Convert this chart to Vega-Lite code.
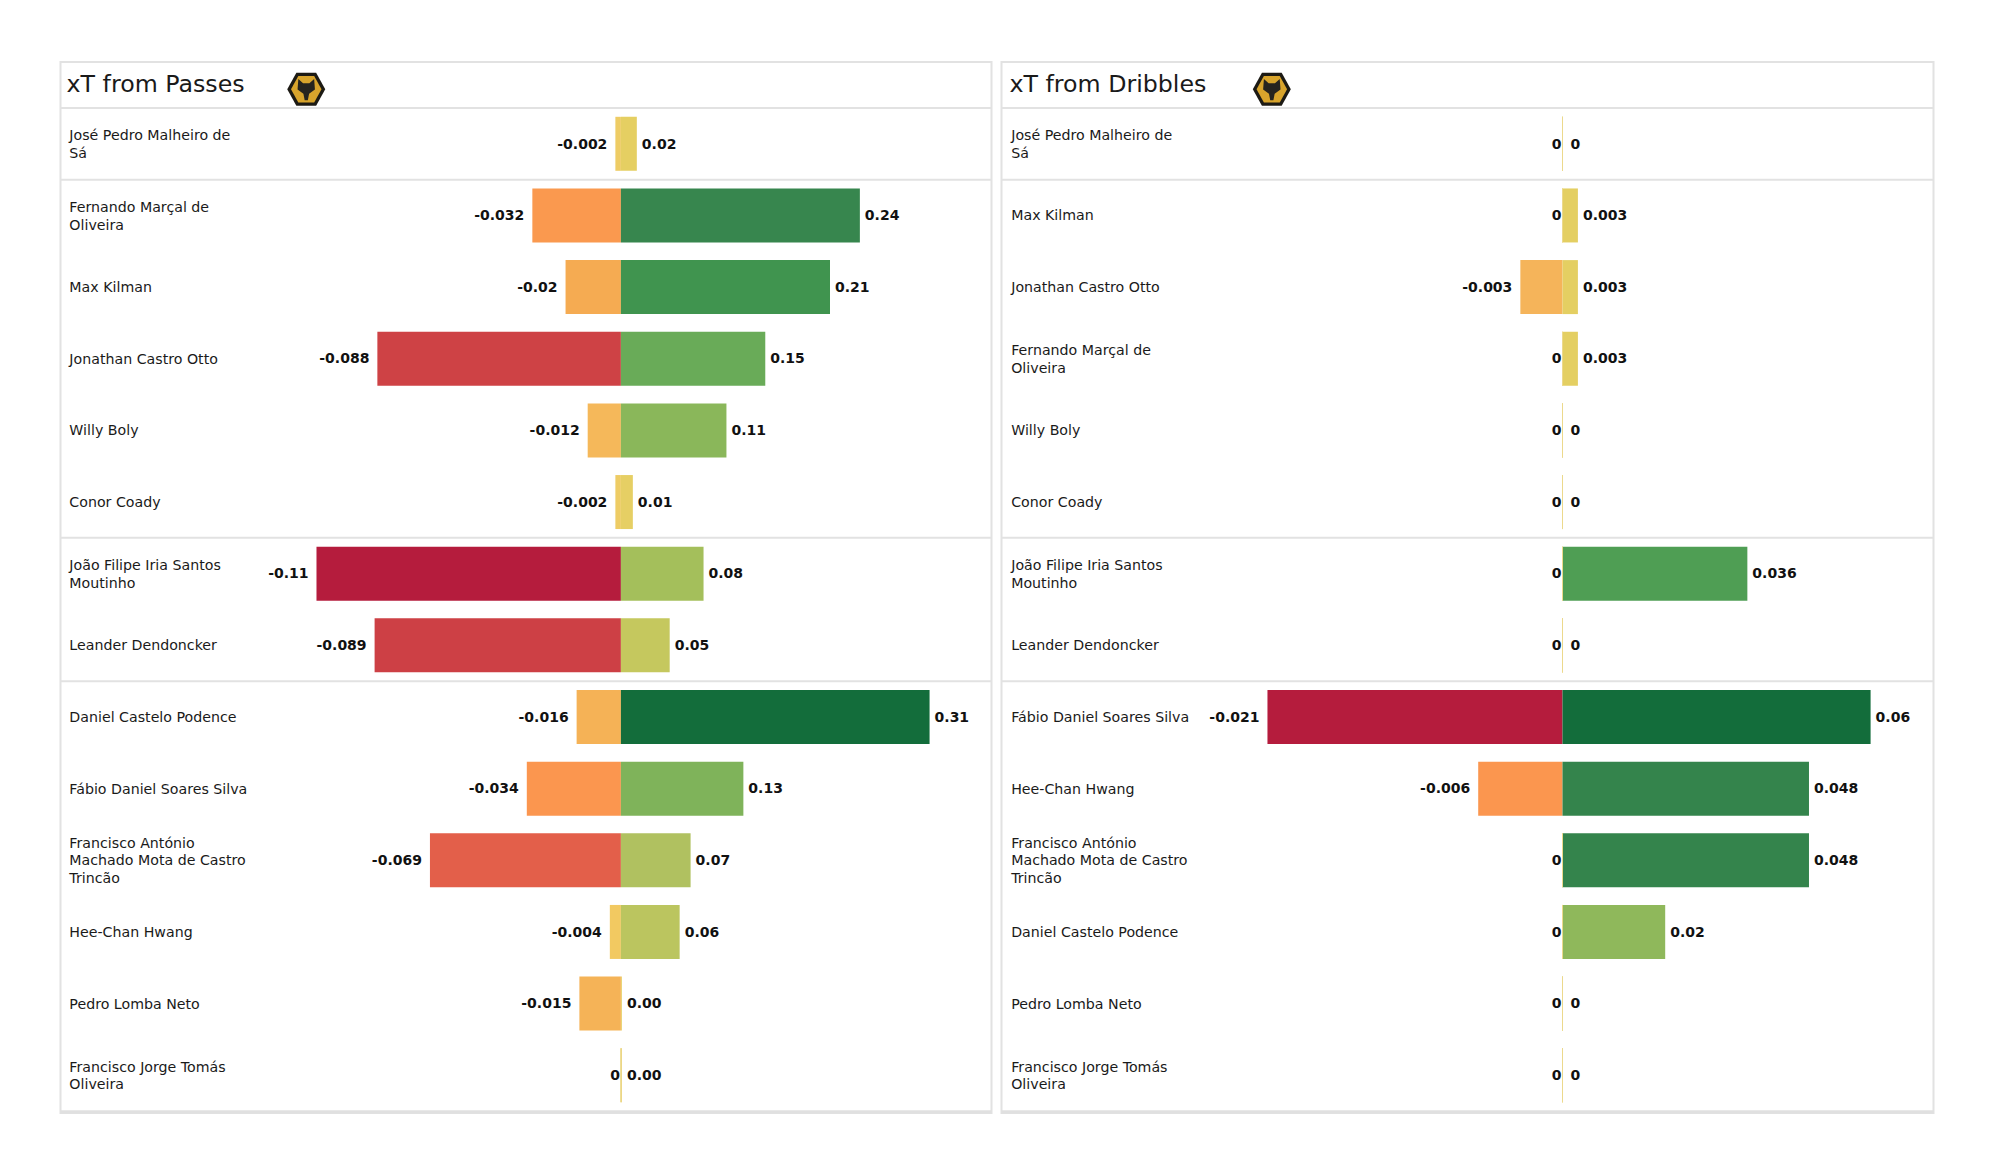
{"$schema":"https://vega.github.io/schema/vega-lite/v6.json","background":"white","padding":{"left":57.5,"top":61,"right":0,"bottom":0},"spacing":4,"resolve":{"scale":{"color":"independent"}},
"config":{"view":{"stroke":"#e2e2e2","strokeWidth":2},"text":{"font":"DejaVu Sans"}},
"datasets":{
"passes":[
{"player":"José Pedro Malheiro de\nSá","rank":1,"side":"neg","value":-0.002,"label":"-0.002"},{"player":"José Pedro Malheiro de\nSá","rank":1,"side":"pos","value":0.016,"label":"0.02"},
{"player":"Fernando Marçal de\nOliveira","rank":2,"side":"neg","value":-0.032,"label":"-0.032"},{"player":"Fernando Marçal de\nOliveira","rank":2,"side":"pos","value":0.24,"label":"0.24"},
{"player":"Max Kilman","rank":3,"side":"neg","value":-0.02,"label":"-0.02"},{"player":"Max Kilman","rank":3,"side":"pos","value":0.21,"label":"0.21"},
{"player":"Jonathan Castro Otto","rank":4,"side":"neg","value":-0.088,"label":"-0.088"},{"player":"Jonathan Castro Otto","rank":4,"side":"pos","value":0.145,"label":"0.15"},
{"player":"Willy Boly","rank":5,"side":"neg","value":-0.012,"label":"-0.012"},{"player":"Willy Boly","rank":5,"side":"pos","value":0.106,"label":"0.11"},
{"player":"Conor  Coady","rank":6,"side":"neg","value":-0.002,"label":"-0.002"},{"player":"Conor  Coady","rank":6,"side":"pos","value":0.012,"label":"0.01"},
{"player":"João Filipe Iria Santos\nMoutinho","rank":7,"side":"neg","value":-0.11,"label":"-0.11"},{"player":"João Filipe Iria Santos\nMoutinho","rank":7,"side":"pos","value":0.083,"label":"0.08"},
{"player":"Leander Dendoncker","rank":8,"side":"neg","value":-0.089,"label":"-0.089"},{"player":"Leander Dendoncker","rank":8,"side":"pos","value":0.049,"label":"0.05"},
{"player":"Daniel Castelo Podence","rank":9,"side":"neg","value":-0.016,"label":"-0.016"},{"player":"Daniel Castelo Podence","rank":9,"side":"pos","value":0.31,"label":"0.31"},
{"player":"Fábio Daniel Soares Silva","rank":10,"side":"neg","value":-0.034,"label":"-0.034"},{"player":"Fábio Daniel Soares Silva","rank":10,"side":"pos","value":0.123,"label":"0.13"},
{"player":"Francisco António\nMachado Mota de Castro\nTrincão","rank":11,"side":"neg","value":-0.069,"label":"-0.069"},{"player":"Francisco António\nMachado Mota de Castro\nTrincão","rank":11,"side":"pos","value":0.07,"label":"0.07"},
{"player":"Hee-Chan Hwang","rank":12,"side":"neg","value":-0.004,"label":"-0.004"},{"player":"Hee-Chan Hwang","rank":12,"side":"pos","value":0.059,"label":"0.06"},
{"player":"Pedro Lomba Neto","rank":13,"side":"neg","value":-0.015,"label":"-0.015"},{"player":"Pedro Lomba Neto","rank":13,"side":"pos","value":0.001,"label":"0.00"},
{"player":"Francisco Jorge Tomás\nOliveira","rank":14,"side":"neg","value":0,"label":"0"},{"player":"Francisco Jorge Tomás\nOliveira","rank":14,"side":"pos","value":0.001,"label":"0.00"}],
"dribbles":[
{"player":"José Pedro Malheiro de\nSá","rank":1,"side":"neg","value":0,"label":"0"},{"player":"José Pedro Malheiro de\nSá","rank":1,"side":"pos","value":0,"label":"0"},
{"player":"Max Kilman","rank":2,"side":"neg","value":0,"label":"0"},{"player":"Max Kilman","rank":2,"side":"pos","value":0.003,"label":"0.003"},
{"player":"Jonathan Castro Otto","rank":3,"side":"neg","value":-0.003,"label":"-0.003"},{"player":"Jonathan Castro Otto","rank":3,"side":"pos","value":0.003,"label":"0.003"},
{"player":"Fernando Marçal de\nOliveira","rank":4,"side":"neg","value":0,"label":"0"},{"player":"Fernando Marçal de\nOliveira","rank":4,"side":"pos","value":0.003,"label":"0.003"},
{"player":"Willy Boly","rank":5,"side":"neg","value":0,"label":"0"},{"player":"Willy Boly","rank":5,"side":"pos","value":0,"label":"0"},
{"player":"Conor  Coady","rank":6,"side":"neg","value":0,"label":"0"},{"player":"Conor  Coady","rank":6,"side":"pos","value":0,"label":"0"},
{"player":"João Filipe Iria Santos\nMoutinho","rank":7,"side":"neg","value":0,"label":"0"},{"player":"João Filipe Iria Santos\nMoutinho","rank":7,"side":"pos","value":0.036,"label":"0.036"},
{"player":"Leander Dendoncker","rank":8,"side":"neg","value":0,"label":"0"},{"player":"Leander Dendoncker","rank":8,"side":"pos","value":0,"label":"0"},
{"player":"Fábio Daniel Soares Silva","rank":9,"side":"neg","value":-0.021,"label":"-0.021"},{"player":"Fábio Daniel Soares Silva","rank":9,"side":"pos","value":0.06,"label":"0.06"},
{"player":"Hee-Chan Hwang","rank":10,"side":"neg","value":-0.006,"label":"-0.006"},{"player":"Hee-Chan Hwang","rank":10,"side":"pos","value":0.048,"label":"0.048"},
{"player":"Francisco António\nMachado Mota de Castro\nTrincão","rank":11,"side":"neg","value":0,"label":"0"},{"player":"Francisco António\nMachado Mota de Castro\nTrincão","rank":11,"side":"pos","value":0.048,"label":"0.048"},
{"player":"Daniel Castelo Podence","rank":12,"side":"neg","value":0,"label":"0"},{"player":"Daniel Castelo Podence","rank":12,"side":"pos","value":0.02,"label":"0.02"},
{"player":"Pedro Lomba Neto","rank":13,"side":"neg","value":0,"label":"0"},{"player":"Pedro Lomba Neto","rank":13,"side":"pos","value":0,"label":"0"},
{"player":"Francisco Jorge Tomás\nOliveira","rank":14,"side":"neg","value":0,"label":"0"},{"player":"Francisco Jorge Tomás\nOliveira","rank":14,"side":"pos","value":0,"label":"0"}],
"seps":[{"rank":0.5},{"rank":1.5},{"rank":6.5},{"rank":8.5}]
},
"hconcat":[
{"width":931,"height":1051,"layer":[
{"data":{"name":"seps"},"mark":{"type":"rule","color":"#e2e2e2","strokeWidth":2},"encoding":{"y":{"field":"rank","type":"quantitative","axis":null,"scale":{"domain":[-0.1417,14.527],"reverse":true,"nice":false,"zero":false,"padding":0}}}},
{"data":{"values":[{"rank":14.51}]},"mark":{"type":"rule","color":"#e0e0e0","strokeWidth":3},"encoding":{"y":{"field":"rank","type":"quantitative","axis":null}}},
{"data":{"name":"passes"},"mark":{"type":"bar","orient":"horizontal","size":54},"encoding":{
"x":{"field":"value","type":"quantitative","stack":null,"axis":null,"scale":{"domain":[-0.2025,0,0.3722],"range":[0,560.4,931],"nice":false,"zero":false}},
"y":{"field":"rank","type":"quantitative","axis":null},
"color":{"field":"value","type":"quantitative","legend":null,"scale":{"type":"linear","interpolate":"rgb","domain":[-0.11,-0.089,-0.069,-0.034,-0.02,-0.012,-0.004,0.001,0.016,0.05,0.07,0.083,0.106,0.123,0.145,0.21,0.24,0.31],"range":["#b51c3d","#cd4045","#e35f4a","#fb964f","#f5ab52","#f5b85a","#f2c961","#e8d06a","#e5cf62","#c4c85e","#b0c160","#a4bf5b","#8ab75a","#7fb35a","#69ab58","#40944f","#37864e","#136d3b"]}}}},
{"data":{"name":"passes"},"transform":[{"filter":"datum.value==0"}],"mark":{"type":"bar","orient":"horizontal","size":54,"stroke":"#ecd98c","strokeWidth":1},"encoding":{"x":{"field":"value","type":"quantitative","stack":null,"axis":null},"y":{"field":"rank","type":"quantitative","axis":null}}},
{"data":{"name":"passes"},"transform":[{"filter":"datum.side=='neg' && length(split(datum.player,'\\n'))==1"}],"mark":{"type":"text","align":"left","baseline":"middle","fontSize":14.2,"dy":1,"color":"#1a1a1a"},"encoding":{"x":{"datum":-0.1993,"type":"quantitative","axis":null},"y":{"field":"rank","type":"quantitative","axis":null},"text":{"field":"player"}}},
{"data":{"name":"passes"},"transform":[{"filter":"datum.side=='neg' && length(split(datum.player,'\\n'))==2"}],"mark":{"type":"text","align":"left","baseline":"middle","fontSize":14.2,"lineBreak":"\n","lineHeight":17.7,"dy":-7.5,"color":"#1a1a1a"},"encoding":{"x":{"datum":-0.1993,"type":"quantitative","axis":null},"y":{"field":"rank","type":"quantitative","axis":null},"text":{"field":"player"}}},
{"data":{"name":"passes"},"transform":[{"filter":"datum.side=='neg' && length(split(datum.player,'\\n'))==3"}],"mark":{"type":"text","align":"left","baseline":"middle","fontSize":14.2,"lineBreak":"\n","lineHeight":17.7,"dy":-16.5,"color":"#1a1a1a"},"encoding":{"x":{"datum":-0.1993,"type":"quantitative","axis":null},"y":{"field":"rank","type":"quantitative","axis":null},"text":{"field":"player"}}},
{"data":{"name":"passes"},"transform":[{"filter":"datum.side=='neg' && datum.value<0"}],"mark":{"type":"text","align":"right","baseline":"middle","fontSize":14,"fontWeight":"bold","dx":-8,"dy":0.7,"color":"#111111"},"encoding":{"x":{"field":"value","type":"quantitative","stack":null,"axis":null},"y":{"field":"rank","type":"quantitative","axis":null},"text":{"field":"label"}}},
{"data":{"name":"passes"},"transform":[{"filter":"datum.side=='neg' && datum.value==0"}],"mark":{"type":"text","align":"right","baseline":"middle","fontSize":14,"fontWeight":"bold","dx":-1,"dy":0.7,"color":"#111111"},"encoding":{"x":{"field":"value","type":"quantitative","stack":null,"axis":null},"y":{"field":"rank","type":"quantitative","axis":null},"text":{"field":"label"}}},
{"data":{"name":"passes"},"transform":[{"filter":"datum.side=='pos'"}],"mark":{"type":"text","align":"left","baseline":"middle","fontSize":14,"fontWeight":"bold","dx":5,"dy":0.7,"color":"#111111"},"encoding":{"x":{"field":"value","type":"quantitative","stack":null,"axis":null},"y":{"field":"rank","type":"quantitative","axis":null},"text":{"field":"label"}}},
{"data":{"values":[{"x":-0.2003,"rank":0.182,"title":"xT from Passes"}]},"mark":{"type":"text","align":"left","baseline":"middle","fontSize":23.7,"color":"#1a1a1a"},"encoding":{"x":{"field":"x","type":"quantitative","axis":null},"y":{"field":"rank","type":"quantitative","axis":null},"text":{"field":"title"}}},
{"data":{"values":[{"x":-0.1137,"rank":0.239}]},"mark":{"type":"point","filled":true,"opacity":1,"color":"#1c1a14","size":1444,"shape":"M-1,0L-0.52,-0.87L0.52,-0.87L1,0L0.52,0.87L-0.52,0.87Z"},"encoding":{"x":{"field":"x","type":"quantitative","axis":null},"y":{"field":"rank","type":"quantitative","axis":null}}},
{"data":{"values":[{"x":-0.1137,"rank":0.239}]},"mark":{"type":"point","filled":true,"opacity":1,"color":"#d8a42c","size":930,"shape":"M-1,0L-0.52,-0.87L0.52,-0.87L1,0L0.52,0.87L-0.52,0.87Z"},"encoding":{"x":{"field":"x","type":"quantitative","axis":null},"y":{"field":"rank","type":"quantitative","axis":null}}},
{"data":{"values":[{"x":-0.1137,"rank":0.239}]},"mark":{"type":"point","filled":true,"opacity":1,"color":"#26241f","size":1000,"shape":"M-0.5,-0.65L-0.2,-0.38L0.2,-0.38L0.5,-0.65L0.55,0.02L0.18,0.28L0.1,0.7L-0.1,0.7L-0.18,0.28L-0.55,0.02Z"},"encoding":{"x":{"field":"x","type":"quantitative","axis":null},"y":{"field":"rank","type":"quantitative","axis":null}}}
]},
{"width":932,"height":1051,"layer":[
{"data":{"name":"seps"},"mark":{"type":"rule","color":"#e2e2e2","strokeWidth":2},"encoding":{"y":{"field":"rank","type":"quantitative","axis":null,"scale":{"domain":[-0.1417,14.527],"reverse":true,"nice":false,"zero":false,"padding":0}}}},
{"data":{"values":[{"rank":14.51}]},"mark":{"type":"rule","color":"#e0e0e0","strokeWidth":3},"encoding":{"y":{"field":"rank","type":"quantitative","axis":null}}},
{"data":{"name":"dribbles"},"mark":{"type":"bar","orient":"horizontal","size":54},"encoding":{
"x":{"field":"value","type":"quantitative","stack":null,"axis":null,"scale":{"domain":[-0.03993,0,0.07225],"range":[0,561,932],"nice":false,"zero":false}},
"y":{"field":"rank","type":"quantitative","axis":null},
"color":{"field":"value","type":"quantitative","legend":null,"scale":{"type":"linear","interpolate":"rgb","domain":[-0.021,-0.006,-0.003,0,0.003,0.02,0.036,0.048,0.06],"range":["#b51c3d","#fb964f","#f5b45a","#e8cd62","#e4cf62","#8fb85b","#4f9e54","#34844c","#136d3b"]}}}},
{"data":{"name":"dribbles"},"transform":[{"filter":"datum.value==0"}],"mark":{"type":"bar","orient":"horizontal","size":54,"stroke":"#ecd98c","strokeWidth":1},"encoding":{"x":{"field":"value","type":"quantitative","stack":null,"axis":null},"y":{"field":"rank","type":"quantitative","axis":null}}},
{"data":{"name":"dribbles"},"transform":[{"filter":"datum.side=='neg' && length(split(datum.player,'\\n'))==1"}],"mark":{"type":"text","align":"left","baseline":"middle","fontSize":14.2,"dy":1,"color":"#1a1a1a"},"encoding":{"x":{"datum":-0.03924,"type":"quantitative","axis":null},"y":{"field":"rank","type":"quantitative","axis":null},"text":{"field":"player"}}},
{"data":{"name":"dribbles"},"transform":[{"filter":"datum.side=='neg' && length(split(datum.player,'\\n'))==2"}],"mark":{"type":"text","align":"left","baseline":"middle","fontSize":14.2,"lineBreak":"\n","lineHeight":17.7,"dy":-7.5,"color":"#1a1a1a"},"encoding":{"x":{"datum":-0.03924,"type":"quantitative","axis":null},"y":{"field":"rank","type":"quantitative","axis":null},"text":{"field":"player"}}},
{"data":{"name":"dribbles"},"transform":[{"filter":"datum.side=='neg' && length(split(datum.player,'\\n'))==3"}],"mark":{"type":"text","align":"left","baseline":"middle","fontSize":14.2,"lineBreak":"\n","lineHeight":17.7,"dy":-16.5,"color":"#1a1a1a"},"encoding":{"x":{"datum":-0.03924,"type":"quantitative","axis":null},"y":{"field":"rank","type":"quantitative","axis":null},"text":{"field":"player"}}},
{"data":{"name":"dribbles"},"transform":[{"filter":"datum.side=='neg' && datum.value<0"}],"mark":{"type":"text","align":"right","baseline":"middle","fontSize":14,"fontWeight":"bold","dx":-8,"dy":0.7,"color":"#111111"},"encoding":{"x":{"field":"value","type":"quantitative","stack":null,"axis":null},"y":{"field":"rank","type":"quantitative","axis":null},"text":{"field":"label"}}},
{"data":{"name":"dribbles"},"transform":[{"filter":"datum.side=='neg' && datum.value==0"}],"mark":{"type":"text","align":"right","baseline":"middle","fontSize":14,"fontWeight":"bold","dx":-1,"dy":0.7,"color":"#111111"},"encoding":{"x":{"field":"value","type":"quantitative","stack":null,"axis":null},"y":{"field":"rank","type":"quantitative","axis":null},"text":{"field":"label"}}},
{"data":{"name":"dribbles"},"transform":[{"filter":"datum.side=='pos' && datum.value>0"}],"mark":{"type":"text","align":"left","baseline":"middle","fontSize":14,"fontWeight":"bold","dx":5,"dy":0.7,"color":"#111111"},"encoding":{"x":{"field":"value","type":"quantitative","stack":null,"axis":null},"y":{"field":"rank","type":"quantitative","axis":null},"text":{"field":"label"}}},
{"data":{"name":"dribbles"},"transform":[{"filter":"datum.side=='pos' && datum.value==0"}],"mark":{"type":"text","align":"left","baseline":"middle","fontSize":14,"fontWeight":"bold","dx":8,"dy":0.7,"color":"#111111"},"encoding":{"x":{"field":"value","type":"quantitative","stack":null,"axis":null},"y":{"field":"rank","type":"quantitative","axis":null},"text":{"field":"label"}}},
{"data":{"values":[{"x":-0.03936,"rank":0.182,"title":"xT from Dribbles"}]},"mark":{"type":"text","align":"left","baseline":"middle","fontSize":23.7,"color":"#1a1a1a"},"encoding":{"x":{"field":"x","type":"quantitative","axis":null},"y":{"field":"rank","type":"quantitative","axis":null},"text":{"field":"title"}}},
{"data":{"values":[{"x":-0.02069,"rank":0.239}]},"mark":{"type":"point","filled":true,"opacity":1,"color":"#1c1a14","size":1444,"shape":"M-1,0L-0.52,-0.87L0.52,-0.87L1,0L0.52,0.87L-0.52,0.87Z"},"encoding":{"x":{"field":"x","type":"quantitative","axis":null},"y":{"field":"rank","type":"quantitative","axis":null}}},
{"data":{"values":[{"x":-0.02069,"rank":0.239}]},"mark":{"type":"point","filled":true,"opacity":1,"color":"#d8a42c","size":930,"shape":"M-1,0L-0.52,-0.87L0.52,-0.87L1,0L0.52,0.87L-0.52,0.87Z"},"encoding":{"x":{"field":"x","type":"quantitative","axis":null},"y":{"field":"rank","type":"quantitative","axis":null}}},
{"data":{"values":[{"x":-0.02069,"rank":0.239}]},"mark":{"type":"point","filled":true,"opacity":1,"color":"#26241f","size":1000,"shape":"M-0.5,-0.65L-0.2,-0.38L0.2,-0.38L0.5,-0.65L0.55,0.02L0.18,0.28L0.1,0.7L-0.1,0.7L-0.18,0.28L-0.55,0.02Z"},"encoding":{"x":{"field":"x","type":"quantitative","axis":null},"y":{"field":"rank","type":"quantitative","axis":null}}}
]}
]}
